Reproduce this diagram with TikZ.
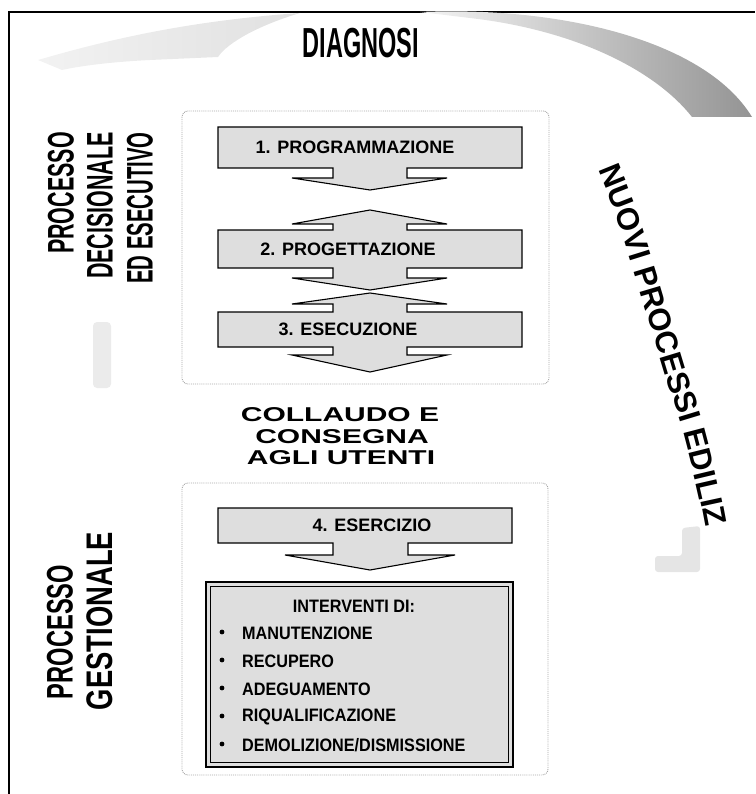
\documentclass[tikz,border=0pt]{standalone}
\usepackage{fontspec}
\setmainfont{Liberation Sans}
\usetikzlibrary{decorations.text}

\begin{document}
\begin{tikzpicture}[x=1pt,y=-1pt,
  stagebox/.style={draw=black, line width=1.1pt, fill=black!13, line join=miter},
  groupframe/.style={draw=black!35, densely dotted, line width=0.9pt, rounded corners=6pt},
  stagelbl/.style={font=\bfseries\fontsize{18}{19}\selectfont, inner sep=0pt},
  itemlbl/.style={font=\bfseries\fontsize{18}{19}\selectfont, inner sep=0pt, anchor=west},
  sidelbl/.style={font=\bfseries\fontsize{37}{37}\selectfont, inner sep=0pt, rotate=90},
  handover/.style={font=\bfseries\fontsize{20}{20}\selectfont, inner sep=0pt},
  stipple/.style={draw=none}
]
\useasboundingbox (0,0) rectangle (755,794);

% outer border of the sheet
\draw[line width=1.2pt] (9,794) -- (9,12) -- (755,12);

% sweeping arrow of the diagnosis cycle
\shade[stipple, left color=black!5, right color=black!12]
  (38,60) .. controls (120,36) and (200,20) .. (300,13)
  .. controls (260,25) and (228,42) .. (218,57)
  -- (150,60) .. controls (110,62) and (80,66) .. (62,70) -- cycle;
\shade[stipple, left color=black!4, right color=black!42]
  (420,12) .. controls (560,6) and (705,40) .. (752,117)
  -- (692,117) .. controls (655,70) and (575,30) .. (470,18) -- cycle;
\fill[black!10, rounded corners=3pt] (682,528) -- (700,526) -- (700,572) -- (655,572) -- (655,556) -- (682,556) -- cycle;
\fill[black!8, rounded corners=4pt] (93,322) rectangle (111,388);

% dotted frames of the two processes
\draw[groupframe] (182,111) rectangle (549,384);
\draw[groupframe] (182,483) rectangle (548,775);

% header
\node[font=\bfseries\fontsize{42}{42}\selectfont, inner sep=0pt] (diag) at (361,43) {\scalebox{0.56}[1]{DIAGNOSI}};

% stage 1
\draw[stagebox] (218,127) -- (522,127) -- (522,168) -- (407,168) -- (407,178) -- (447,178)
  -- (370,190) -- (292,178) -- (333,178) -- (333,168) -- (218,168) -- cycle;
% stage 2
\draw[stagebox] (370,210) -- (447,224) -- (407,224) -- (407,230) -- (522,230) -- (522,268)
  -- (407,268) -- (407,278) -- (447,278) -- (370,290) -- (292,278) -- (333,278) -- (333,268)
  -- (218,268) -- (218,230) -- (333,230) -- (333,224) -- (292,224) -- cycle;
% stage 3
\draw[stagebox] (370,293) -- (447,304) -- (407,304) -- (407,312) -- (522,312) -- (522,347)
  -- (407,347) -- (407,355) -- (447,355) -- (370,372) -- (292,355) -- (333,355) -- (333,347)
  -- (218,347) -- (218,312) -- (333,312) -- (333,304) -- (292,304) -- cycle;
% stage 4
\draw[stagebox] (218,508) -- (512,508) -- (512,543) -- (408,543) -- (408,555) -- (455,555)
  -- (370,570) -- (285,555) -- (333,555) -- (333,543) -- (218,543) -- cycle;

\node[stagelbl] (s1) at (355,147) {1. PROGRAMMAZIONE};
\node[stagelbl] (s2) at (348,249) {2. PROGETTAZIONE};
\node[stagelbl] (s3) at (348,329) {3. ESECUZIONE};
\node[stagelbl] (s4) at (372,525) {4. ESERCIZIO};

% hand-over to users
\node[handover] (h1) at (340,415) {\scalebox{1.5}[1]{COLLAUDO E}};
\node[handover] (h2) at (342,437) {\scalebox{1.5}[1]{CONSEGNA}};
\node[handover] (h3) at (341,458) {\scalebox{1.5}[1]{AGLI UTENTI}};

% interventions box with double border
\draw[line width=1.8pt, fill=black!13] (206,582) rectangle (513,767);
\draw[line width=0.6pt] (210.5,586.5) rectangle (508.5,762.5);
\node[font=\bfseries\fontsize{18}{19}\selectfont, inner sep=0pt] (iv) at (354,606) {\scalebox{0.9}[1]{INTERVENTI DI:}};
\foreach \yy/\name/\txt in {633/i1/MANUTENZIONE, 661/i2/RECUPERO, 689/i3/ADEGUAMENTO,
    717/i4/RIQUALIFICAZIONE, 745/i5/{DEMOLIZIONE/DISMISSIONE}}{
  \fill (222,\yy-1) circle (2.4pt);
  \node[itemlbl] (\name) at (242,\yy) {\scalebox{0.9}[1]{\txt}};
}

% side captions
\node[sidelbl, anchor=east] (pa) at (61,132) {\scalebox{0.58}[1]{PROCESSO}};
\node[sidelbl, anchor=east] (pb) at (100,132) {\scalebox{0.58}[1]{DECISIONALE}};
\node[sidelbl, anchor=east] (pc) at (140,132) {\scalebox{0.55}[1]{ED ESECUTIVO}};
\node[sidelbl] (ga) at (60,632) {\scalebox{0.64}[1]{PROCESSO}};
\node[sidelbl] (gb) at (100,621) {\scalebox{0.74}[1]{GESTIONALE}};

% curved caption on the right
\path[decorate, decoration={text along path,
    text={|\bfseries\fontsize{31}{31}\selectfont|NUOVI PROCESSI EDILIZ}, text align=left}]
  plot[smooth] coordinates {(598,170) (617,218) (635,274) (650,324) (665,374) (681,424)
    (694,474) (703,514) (708,545) (710,580) (708,610)};
\end{tikzpicture}
\end{document}
